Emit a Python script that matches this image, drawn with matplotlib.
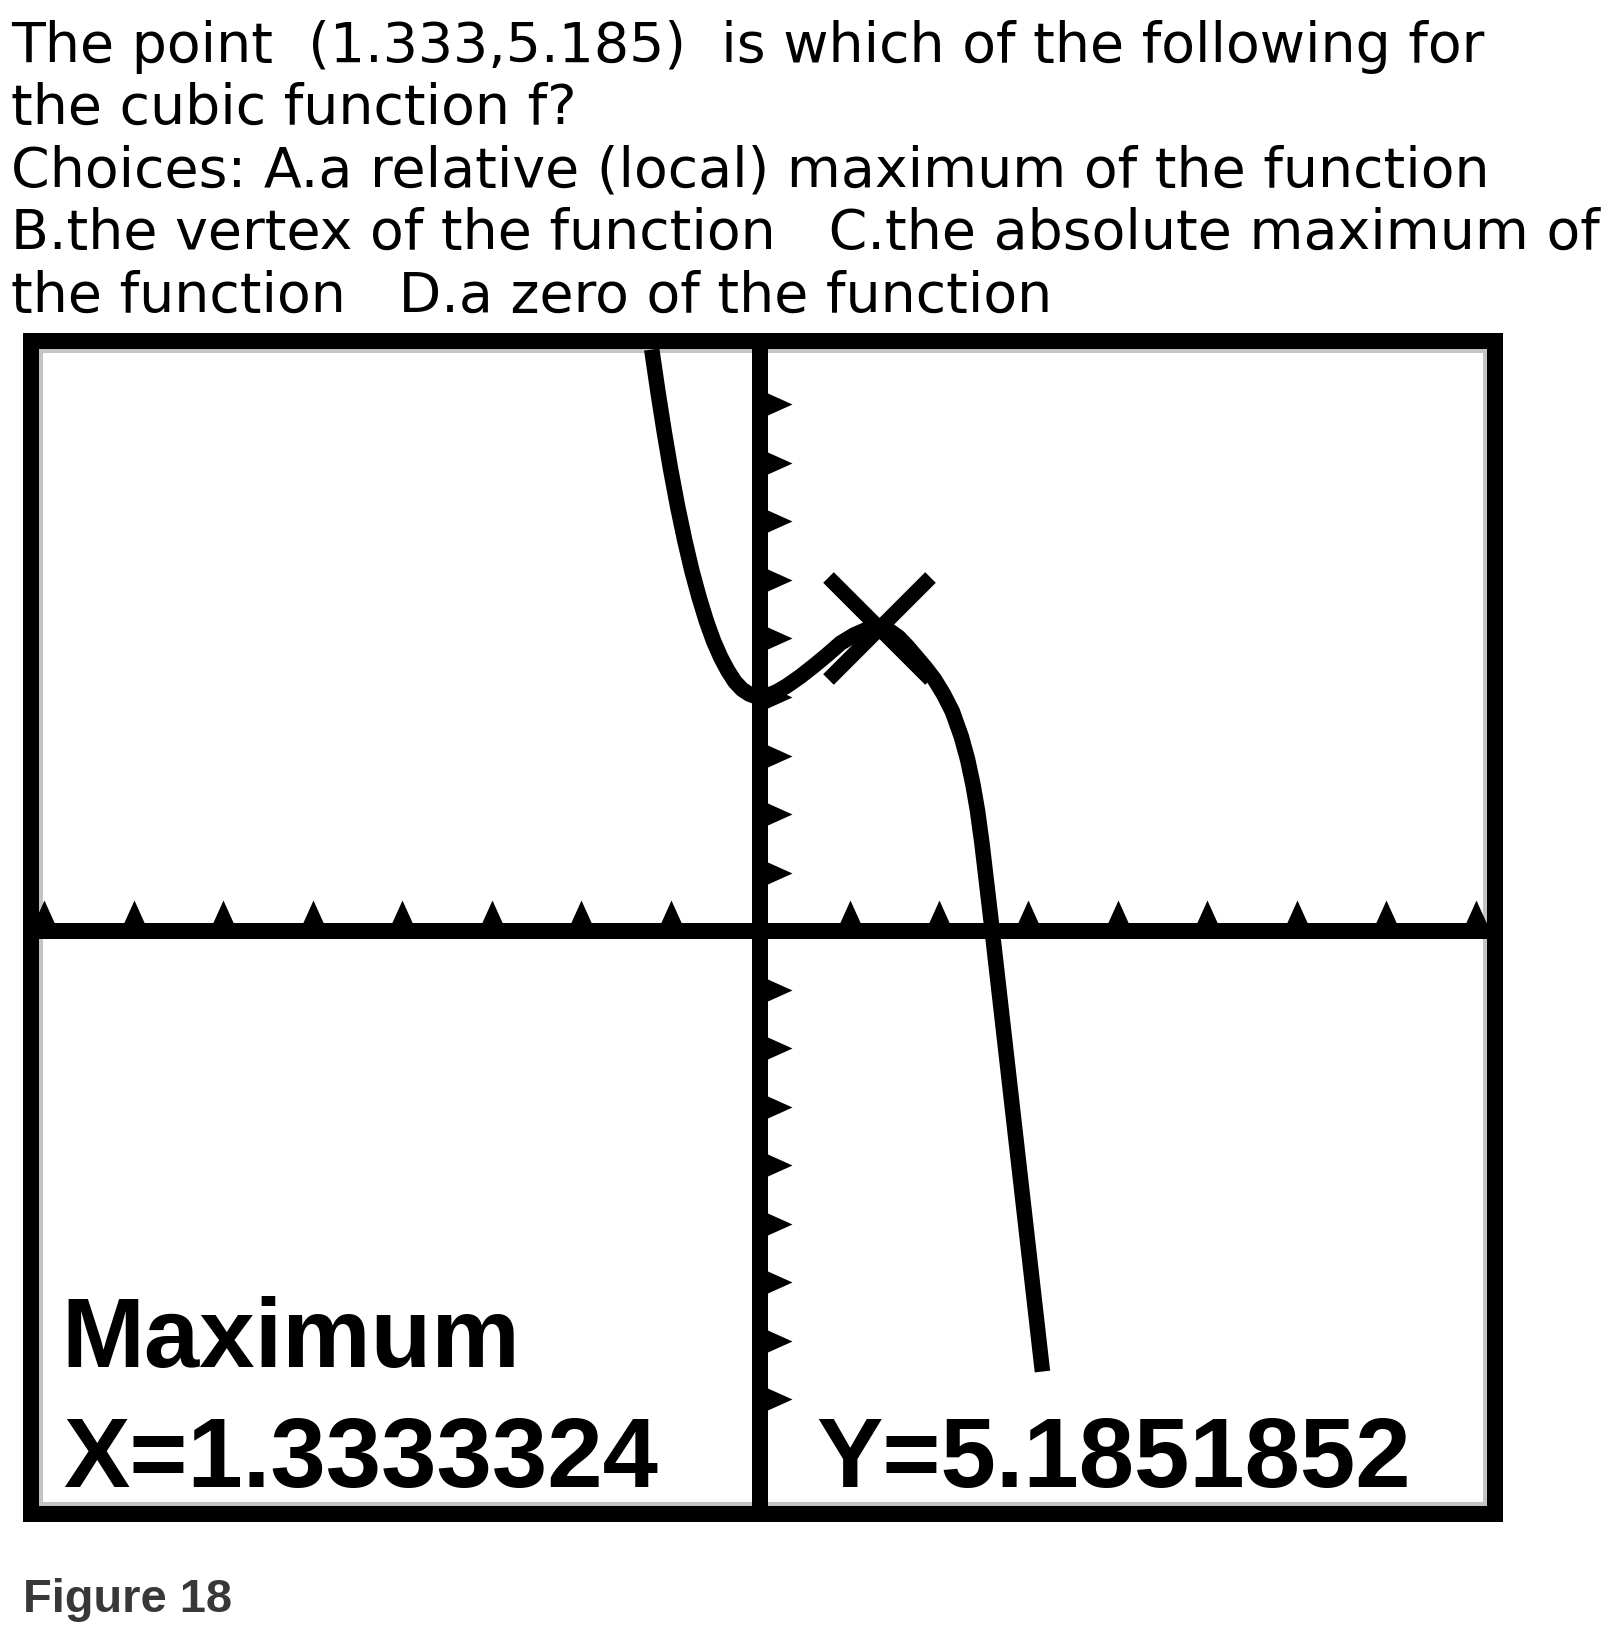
import matplotlib
matplotlib.use('Agg')
import matplotlib.pyplot as plt
from matplotlib.path import Path
from matplotlib.patches import Rectangle

W, H = 1612, 1648
DPI = 100

# question text, one entry per rendered line
question_lines = [
    "The point  (1.333,5.185)  is which of the following for",
    "the cubic function f?",
    "Choices: A.a relative (local) maximum of the function",
    "B.the vertex of the function   C.the absolute maximum of",
    "the function   D.a zero of the function",
]

# curve points
curve_x = [-1.21, -1.14, -1.07, -1.00, -0.92, -0.84, -0.76, -0.68, -0.60, -0.52,
           -0.44, -0.36, -0.28, -0.20, -0.12, -0.05, 0.00, 0.10, 0.20, 0.30,
           0.45, 0.60, 0.75, 0.90, 1.05, 1.20, 1.333, 1.45, 1.55, 1.65,
           1.75, 1.85, 1.95, 2.05, 2.15, 2.25, 2.32, 2.38, 2.43, 2.48,
           2.53, 2.58, 3.156]
curve_y = [9.94, 9.21, 8.53, 7.90, 7.25, 6.67, 6.15, 5.70, 5.30, 4.96,
           4.68, 4.45, 4.26, 4.13, 4.05, 4.01, 4.00, 4.03, 4.10, 4.19,
           4.35, 4.53, 4.72, 4.92, 5.06, 5.16, 5.185, 5.13, 5.02, 4.86,
           4.68, 4.50, 4.30, 4.05, 3.75, 3.32, 2.93, 2.50, 2.06, 1.50,
           0.85, 0.20, -7.53]

max_x = "1.3333324"
max_y = "5.1851852"

x_ticks = [-8, -7, -6, -5, -4, -3, -2, -1, 1, 2, 3, 4, 5, 6, 7, 8]
y_ticks = [-8, -7, -6, -5, -4, -3, -2, -1, 1, 2, 3, 4, 5, 6, 7, 8, 9]

px = 72 / DPI  # points per pixel


def fy(y):
    return 1 - y / H


fig = plt.figure(figsize=(W / DPI, H / DPI), dpi=DPI)
fig.patch.set_facecolor('white')

# question
for i, line in enumerate(question_lines):
    fig.text(11 / W, fy(61.7 + i * 62.5), line, fontsize=55.4 * px,
             family='DejaVu Sans', va='baseline', ha='left', color='black')

# calculator screen (axes box = centre line of the thick frame)
left, right, top, bottom = 30.7, 1494.7, 341.3, 1513.7
aw, ah = right - left, bottom - top
ax = fig.add_axes([left / W, fy(bottom), aw / W, ah / H])
ax.set_xlim(-8.15, 8.21)
ax.set_ylim(-9.96, 10.08)
for s in ax.spines.values():
    s.set_visible(False)
ax.set_xticks([])
ax.set_yticks([])

# thin grey inner edge of the screen
ax.add_patch(Rectangle((10 / aw, 10 / ah), 1 - 20 / aw, 1 - 20 / ah,
                       transform=ax.transAxes, fill=False, lw=4 * px,
                       ec='#c4c4c4', clip_on=False, zorder=1))

lw_axis = 16 * px
ax.axhline(0, color='black', lw=lw_axis, zorder=2)
ax.axvline(0, color='black', lw=lw_axis, zorder=2)

up_tri = Path([(-0.45, 0), (0, 1), (0.45, 0), (-0.45, 0)],
              [Path.MOVETO, Path.LINETO, Path.LINETO, Path.CLOSEPOLY])
right_tri = Path([(0, -0.45), (1, 0), (0, 0.45), (0, -0.45)],
                 [Path.MOVETO, Path.LINETO, Path.LINETO, Path.CLOSEPOLY])
ax.plot(x_ticks, [0] * len(x_ticks), ls='none', marker=up_tri,
        markersize=62 * px, color='black', mew=0, zorder=2)
ax.plot([0] * len(y_ticks), y_ticks, ls='none', marker=right_tri,
        markersize=64 * px, color='black', mew=0, zorder=2)

ax.plot(curve_x, curve_y, color='black', lw=15.5 * px, solid_joinstyle='round',
        solid_capstyle='butt', zorder=3)

# trace cursor at the maximum
ax.plot([float(max_x)], [float(max_y)], marker='x', markersize=102 * px,
        mew=15 * px, color='black', ls='none', zorder=4)

# thick black frame
ax.add_patch(Rectangle((0, 0), 1, 1, transform=ax.transAxes, fill=False,
                       lw=16 * px, ec='black', joinstyle='miter',
                       clip_on=False, zorder=10))

# screen text
big = dict(fontsize=99.5 * px, family='Liberation Sans', weight='bold',
           va='baseline', ha='left', color='black')
fig.text(61 / W, fy(1366.7), "Maximum", **big)
fig.text(63 / W, fy(1486.7), "X=" + max_x, **big)
fig.text(816 / W, fy(1486.7), "Y=" + max_y, **big)

fig.text(23 / W, fy(1611.7), "Figure 18", fontsize=47 * px,
         family='Liberation Sans', weight='bold', va='baseline', ha='left',
         color='#383838')

fig.savefig('out.png', dpi=DPI)
